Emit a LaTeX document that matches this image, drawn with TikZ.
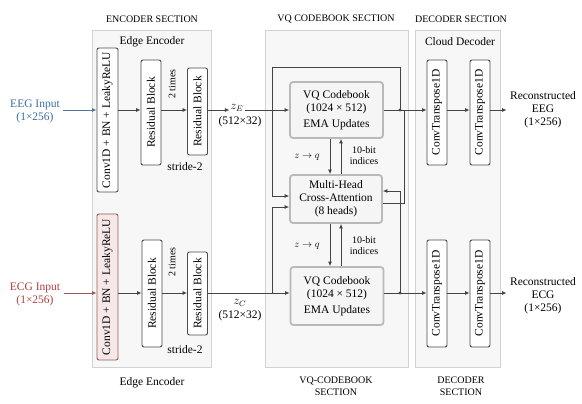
\documentclass[tikz,border=0pt]{standalone}
\usepackage{fontspec}
\setmainfont{Liberation Serif}
\usetikzlibrary{arrows.meta,calc}
\definecolor{eegc}{HTML}{3A6EA5}
\definecolor{ecgc}{HTML}{B04040}
\definecolor{lnc}{HTML}{444444}
\begin{document}
\begin{tikzpicture}[x=1pt,y=-1pt,
  font=\fontsize{11.5}{13}\selectfont,
  sect/.style={fill=gray!6,draw=gray!35,line width=0.7pt},
  blk/.style={draw=gray!60!black,fill=white,rounded corners=2pt,line width=0.9pt,inner sep=0pt},
  vqb/.style={draw=gray!55,fill=gray!8,rounded corners=3pt,line width=1.8pt,align=center,inner sep=0pt},
  arr/.style={-{Latex[length=4.5pt,width=4pt]},draw=lnc,line width=0.8pt},
  ln/.style={draw=lnc,line width=0.8pt},
  lab/.style={font=\fontsize{10}{11}\selectfont,align=center,inner sep=1pt},
  sec/.style={font=\fontsize{10}{11.5}\selectfont,align=center},
  jd/.style={circle,fill=lnc,inner sep=0pt,minimum size=3.4pt}]

\useasboundingbox (0,0) rectangle (582,404);
\fill[white] (0,0) rectangle (582,404);
\coordinate (L1) at (0,110);
\coordinate (L2) at (0,293);

% ---------- sections ----------
\draw[sect] (92,30) rectangle (211,367);
\draw[sect] (265,30) rectangle (408,367);
\draw[sect] (415,30) rectangle (500,367);

\node[sec] (s1) at (152,19) {ENCODER SECTION};
\node[sec] (s2) at (336,19) {VQ CODEBOOK SECTION};
\node[sec] (s3) at (461,19) {DECODER SECTION};
\node (s4) at (152,383) {Edge Encoder};
\node[sec] (s5) at (336,386) {VQ-CODEBOOK\\SECTION};
\node[sec] (s6) at (461,386) {DECODER\\SECTION};
\node (e1) at (152,42) {Edge Encoder};
\node (e2) at (460,42) {Cloud Decoder};

% ---------- top stream (EEG) ----------
\node[align=center,text=eegc] (in1) at (35,111) {EEG Input\\(1×256)};
\node[blk,minimum width=21pt,minimum height=144pt] (c1) at (107.5,120) {\rotatebox{90}{Conv1D + BN + LeakyReLU}};
\node[blk,minimum width=20pt,minimum height=105pt] (r1) at (151,112.5) {\rotatebox{90}{Residual Block}};
\node[lab] (t1) at (172,84) {\rotatebox{90}{2 times}};
\node[blk,minimum width=20pt,minimum height=87pt] (r2) at (197.5,111.5) {\rotatebox{90}{Residual Block}};
\node (st1) at (185,167) {stride-2};
\node[inner sep=1pt] (zE) at (237,108) {$z_E$};
\node (dm1) at (240,122) {(512×32)};

\node[vqb,minimum width=93pt,minimum height=56pt] (vq1) at (336.5,110) {VQ Codebook\\(1024 × 512)\\[3pt]EMA Updates};
\node[vqb,minimum width=92pt,minimum height=48pt] (ca) at (336,199) {Multi-Head\\Cross-Attention\\(8 heads)};

\node[blk,minimum width=20pt,minimum height=105pt] (d1) at (437,112.5) {\rotatebox{90}{ConvTranspose1D}};
\node[blk,minimum width=20pt,minimum height=105pt] (d2) at (480,112.5) {\rotatebox{90}{ConvTranspose1D}};
\node[align=center] (o1) at (543,110) {Reconstructed\\EEG\\(1×256)};

\draw[arr,draw=eegc!60!gray] (in1.east |- L1) -- (c1.west |- L1);
\draw[arr] (c1.east |- L1) -- (r1.west |- L1);
\draw[arr] (r1.east |- L1) -- (r2.west |- L1);
\draw[arr] (r2.east |- L1) -- (zE.west |- L1);
\draw[arr] (zE.east |- L1) -- (vq1.west |- L1);
\draw[arr] (vq1.east |- L1) -- (d1.west |- L1);
\draw[arr] (d1.east |- L1) -- (d2.west |- L1);
\draw[arr] (d2.east |- L1) -- (o1.west |- L1);

% ---------- bottom stream (ECG) ----------
\node[align=center,text=ecgc] (in2) at (35,294) {ECG Input\\(1×256)};
\node[blk,draw=ecgc!60!gray,fill=ecgc!12,minimum width=21pt,minimum height=146pt] (c2) at (107.5,287) {\rotatebox{90}{Conv1D + BN + LeakyReLU}};
\node[blk,minimum width=20pt,minimum height=107pt] (r3) at (152,293.5) {\rotatebox{90}{Residual Block}};
\node[lab] (t2) at (172,262) {\rotatebox{90}{2 times}};
\node[blk,minimum width=20pt,minimum height=83pt] (r4) at (197.5,293.5) {\rotatebox{90}{Residual Block}};
\node (st2) at (185,350) {stride-2};
\node[inner sep=1pt] (zC) at (240,303) {$z_C$};
\node (dm2) at (240,316) {(512×32)};

\node[vqb,minimum width=93pt,minimum height=58pt] (vq2) at (337,296) {VQ Codebook\\(1024 × 512)\\[3pt]EMA Updates};

\node[blk,minimum width=20pt,minimum height=107pt] (d3) at (437,293.5) {\rotatebox{90}{ConvTranspose1D}};
\node[blk,minimum width=20pt,minimum height=107pt] (d4) at (480,293.5) {\rotatebox{90}{ConvTranspose1D}};
\node[align=center] (o2) at (543,296) {Reconstructed\\ECG\\(1×256)};

\draw[arr,draw=ecgc!60!gray] (in2.east |- L2) -- (c2.west |- L2);
\draw[arr] (c2.east |- L2) -- (r3.west |- L2);
\draw[arr] (r3.east |- L2) -- (r4.west |- L2);
\draw[arr] (r4.east |- L2) -- (vq2.west |- L2);
\draw[arr] (vq2.east |- L2) -- (d3.west |- L2);
\draw[arr] (d3.east |- L2) -- (d4.west |- L2);
\draw[arr] (d4.east |- L2) -- (o2.west |- L2);

% ---------- VQ section wiring ----------
\coordinate (j1) at (400,110);
\coordinate (j2) at (400,293);
\coordinate (j3) at (272,293);
\draw[arr] (j1) -- (400,67) -- (272,67) -- (272,196) -- (ca.west |- 0,196);
\draw[arr] (j3) -- (272,207) -- (ca.west |- 0,207);
\draw[arr] (j2) -- (400,191) -- (ca.east |- 0,191);
\draw[ln] (ca.east |- 0,203) -- (404,203) -- (404,110);
\node[jd] (jd1) at (j1) {};
\node[jd] (jd2) at (j2) {};

\draw[arr] (vq1.south -| 330,0) -- (ca.north -| 330,0);
\draw[arr] (ca.north -| 341,0) -- (vq1.south -| 341,0);
\draw[arr] (ca.south -| 330,0) -- (vq2.north -| 330,0);
\draw[arr] (vq2.north -| 341,0) -- (ca.south -| 341,0);
\node[lab] (zq1) at (307,157) {$z \rightarrow q$};
\node[lab] (zq2) at (307,246) {$z \rightarrow q$};
\node[lab] (ix1) at (364,156) {10-bit\\indices};
\node[lab] (ix2) at (364,246) {10-bit\\indices};
\end{tikzpicture}
\end{document}
